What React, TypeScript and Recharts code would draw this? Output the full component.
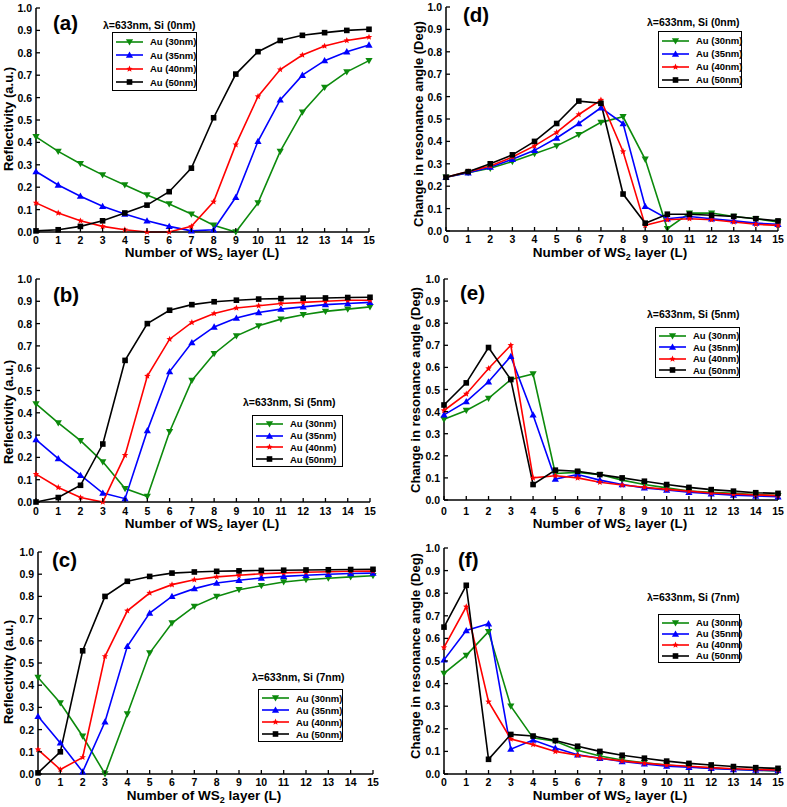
import { Line, LineChart, XAxis, YAxis } from 'recharts';

const layers = [0, 1, 2, 3, 4, 5, 6, 7, 8, 9, 10, 11, 12, 13, 14, 15];
const yTicks = [0, 0.1, 0.2, 0.3, 0.4, 0.5, 0.6, 0.7, 0.8, 0.9, 1.0];

// (a) reflectivity, Si 0nm
const a30 = [0.425, 0.36, 0.305, 0.255, 0.21, 0.165, 0.125, 0.08, 0.03, 0.0, 0.13, 0.36, 0.535, 0.645, 0.715, 0.765];
const a35 = [0.27, 0.21, 0.16, 0.115, 0.08, 0.05, 0.025, 0.005, 0.01, 0.155, 0.405, 0.59, 0.7, 0.765, 0.805, 0.835];
const a40 = [0.13, 0.085, 0.05, 0.025, 0.01, 0.0, 0.0, 0.025, 0.135, 0.39, 0.605, 0.725, 0.79, 0.83, 0.855, 0.87];
const a50 = [0.005, 0.01, 0.025, 0.05, 0.085, 0.12, 0.18, 0.285, 0.51, 0.705, 0.805, 0.855, 0.878, 0.89, 0.9, 0.905];

// (b) reflectivity, Si 5nm
const b30 = [0.44, 0.355, 0.275, 0.18, 0.06, 0.025, 0.315, 0.545, 0.665, 0.745, 0.79, 0.82, 0.84, 0.855, 0.865, 0.875];
const b35 = [0.28, 0.195, 0.12, 0.04, 0.015, 0.32, 0.585, 0.715, 0.785, 0.825, 0.85, 0.865, 0.875, 0.885, 0.89, 0.895];
const b40 = [0.125, 0.065, 0.02, 0.0, 0.21, 0.565, 0.73, 0.805, 0.845, 0.87, 0.88, 0.89, 0.895, 0.9, 0.905, 0.905];
const b50 = [0.0, 0.02, 0.075, 0.26, 0.635, 0.8, 0.86, 0.885, 0.898, 0.905, 0.91, 0.912, 0.914, 0.915, 0.917, 0.918];

// (c) reflectivity, Si 7nm
const c30 = [0.435, 0.32, 0.17, 0.0, 0.27, 0.545, 0.68, 0.755, 0.8, 0.83, 0.848, 0.865, 0.875, 0.882, 0.888, 0.893];
const c35 = [0.26, 0.14, 0.01, 0.235, 0.575, 0.725, 0.8, 0.835, 0.86, 0.873, 0.883, 0.89, 0.895, 0.9, 0.903, 0.905];
const c40 = [0.11, 0.02, 0.075, 0.53, 0.735, 0.815, 0.853, 0.875, 0.888, 0.895, 0.902, 0.906, 0.909, 0.911, 0.913, 0.914];
const c50 = [0.005, 0.1, 0.555, 0.8, 0.868, 0.89, 0.905, 0.91, 0.913, 0.915, 0.917, 0.918, 0.919, 0.92, 0.921, 0.922];

// (d) resonance angle change, Si 0nm
const d30 = [0.24, 0.26, 0.28, 0.31, 0.345, 0.38, 0.43, 0.485, 0.51, 0.32, 0.01, 0.08, 0.08, 0.065, 0.055, 0.04];
const d35 = [0.24, 0.26, 0.285, 0.32, 0.36, 0.415, 0.48, 0.55, 0.48, 0.11, 0.055, 0.065, 0.055, 0.045, 0.035, 0.03];
const d40 = [0.24, 0.265, 0.29, 0.33, 0.38, 0.44, 0.52, 0.585, 0.355, 0.025, 0.05, 0.055, 0.05, 0.04, 0.03, 0.025];
const d50 = [0.24, 0.265, 0.3, 0.34, 0.4, 0.48, 0.58, 0.57, 0.165, 0.035, 0.075, 0.075, 0.07, 0.065, 0.055, 0.045];

// (e) resonance angle change, Si 5nm
const e30 = [0.365, 0.405, 0.46, 0.545, 0.57, 0.12, 0.125, 0.115, 0.09, 0.07, 0.055, 0.04, 0.035, 0.03, 0.025, 0.02];
const e35 = [0.385, 0.445, 0.535, 0.65, 0.385, 0.095, 0.115, 0.09, 0.07, 0.055, 0.045, 0.035, 0.028, 0.022, 0.018, 0.015];
const e40 = [0.405, 0.48, 0.595, 0.7, 0.1, 0.11, 0.1, 0.08, 0.068, 0.058, 0.048, 0.04, 0.032, 0.027, 0.023, 0.02];
const e50 = [0.43, 0.53, 0.69, 0.545, 0.07, 0.135, 0.13, 0.115, 0.1, 0.085, 0.07, 0.057, 0.047, 0.04, 0.033, 0.03];

// (f) resonance angle change, Si 7nm
const f30 = [0.445, 0.525, 0.63, 0.3, 0.16, 0.145, 0.105, 0.08, 0.062, 0.05, 0.04, 0.032, 0.026, 0.021, 0.017, 0.014];
const f35 = [0.505, 0.635, 0.665, 0.11, 0.15, 0.115, 0.085, 0.07, 0.055, 0.045, 0.035, 0.03, 0.025, 0.02, 0.017, 0.015];
const f40 = [0.56, 0.74, 0.32, 0.155, 0.13, 0.1, 0.083, 0.07, 0.058, 0.048, 0.04, 0.034, 0.028, 0.023, 0.02, 0.018];
const f50 = [0.65, 0.835, 0.065, 0.175, 0.168, 0.148, 0.123, 0.1, 0.083, 0.07, 0.057, 0.047, 0.04, 0.033, 0.028, 0.025];

const series = [
  { key: 'au30', name: 'Au (30nm)', color: '#0c8a0c', shape: 'down' },
  { key: 'au35', name: 'Au (35nm)', color: '#0000ff', shape: 'up' },
  { key: 'au40', name: 'Au (40nm)', color: '#ff0000', shape: 'star' },
  { key: 'au50', name: 'Au (50nm)', color: '#000000', shape: 'square' },
];

const font = '"Liberation Sans", Arial, sans-serif';

function table(s30: number[], s35: number[], s40: number[], s50: number[]) {
  return layers.map((L, i) => ({ L, au30: s30[i], au35: s35[i], au40: s40[i], au50: s50[i] }));
}

function Marker({ cx, cy, shape, color }: { cx: number; cy: number; shape: string; color: string }) {
  const s = 3.6;
  if (shape === 'down')
    return <polygon points={`${cx - s},${cy - s * 0.75} ${cx + s},${cy - s * 0.75} ${cx},${cy + s}`} fill={color} />;
  if (shape === 'up')
    return <polygon points={`${cx - s},${cy + s * 0.75} ${cx + s},${cy + s * 0.75} ${cx},${cy - s}`} fill={color} />;
  if (shape === 'square') return <rect x={cx - 2.8} y={cy - 2.8} width={5.6} height={5.6} fill={color} />;
  const pts: string[] = [];
  for (let k = 0; k < 10; k++) {
    const r = k % 2 === 0 ? 3.4 : 1.5;
    const ang = -Math.PI / 2 + (k * Math.PI) / 5;
    pts.push(`${cx + r * Math.cos(ang)},${cy + r * Math.sin(ang)}`);
  }
  return <polygon points={pts.join(' ')} fill={color} />;
}

interface PanelProps {
  chart: { x: number; y: number; w: number; h: number };
  plot: { l: number; t: number; r: number; b: number };
  data: ReturnType<typeof table>;
  tickY: number;
}

function Panel({ chart, plot, data, tickY }: PanelProps) {
  const pl = plot.l - chart.x;
  const pb = plot.b - chart.y;
  const ty = tickY - chart.y;
  const XTick = (props: any) => (
    <g>
      <line x1={props.x} x2={props.x} y1={pb} y2={pb - 4} stroke="#000" strokeWidth={1.3} />
      <text x={props.x} y={ty} textAnchor="middle" dominantBaseline="central" fontSize={10.5} fontWeight="bold" fontFamily={font} fill="#000">
        {props.payload.value}
      </text>
    </g>
  );
  const YTick = (props: any) => (
    <g>
      <line x1={pl} x2={pl + 4} y1={props.y} y2={props.y} stroke="#000" strokeWidth={1.3} />
      <text x={pl - 4} y={props.y} textAnchor="end" dominantBaseline="central" fontSize={10.5} fontWeight="bold" fontFamily={font} fill="#000">
        {Number(props.payload.value).toFixed(1)}
      </text>
    </g>
  );
  return (
    <div style={{ position: 'absolute', left: chart.x, top: chart.y }}>
      <LineChart
        width={chart.w}
        height={chart.h}
        data={data}
        margin={{ top: plot.t - chart.y, right: chart.x + chart.w - plot.r, left: 0, bottom: 0 }}
      >
        <XAxis
          dataKey="L"
          type="number"
          domain={[0, 15]}
          ticks={layers}
          interval={0}
          height={chart.y + chart.h - plot.b}
          axisLine={{ stroke: '#000', strokeWidth: 1.5 }}
          tickLine={false}
          tick={XTick}
        />
        <YAxis
          type="number"
          domain={[0, 1]}
          ticks={yTicks}
          interval={0}
          width={pl}
          axisLine={{ stroke: '#000', strokeWidth: 1.5 }}
          tickLine={false}
          tick={YTick}
        />
        {series.map((s) => (
          <Line
            key={s.key}
            dataKey={s.key}
            type="linear"
            stroke={s.color}
            strokeWidth={1.6}
            isAnimationActive={false}
            activeDot={false}
            dot={(p: any) => <Marker key={`${s.key}-${p.index}`} cx={p.cx} cy={p.cy} shape={s.shape} color={s.color} />}
          />
        ))}
      </LineChart>
    </div>
  );
}

function Legend({ left, top, w, h }: { left: number; top: number; w: number; h: number }) {
  const rowH = (h - 5) / 4;
  return (
    <div
      style={{
        position: 'absolute',
        left,
        top,
        width: w,
        height: h,
        boxSizing: 'border-box',
        border: '1.2px solid #000',
        paddingTop: 2,
        background: '#fff',
        fontFamily: font,
        fontWeight: 'bold',
        fontSize: 9.5,
      }}
    >
      {series.map((s) => (
        <div key={s.key} style={{ height: rowH, display: 'flex', alignItems: 'center' }}>
          <svg width={34} height={10} style={{ marginLeft: 2, flex: 'none' }}>
            <line x1={1} x2={28} y1={5} y2={5} stroke={s.color} strokeWidth={1.6} />
            <Marker cx={14.5} cy={5} shape={s.shape} color={s.color} />
          </svg>
          <span style={{ whiteSpace: 'nowrap', marginLeft: 1 }}>{s.name}</span>
        </div>
      ))}
    </div>
  );
}

function Text({ x, y, size, children }: { x: number; y: number; size: number; children: any }) {
  return (
    <div
      style={{
        position: 'absolute',
        left: x,
        top: y,
        transform: 'translateY(-50%)',
        whiteSpace: 'nowrap',
        fontFamily: font,
        fontWeight: 'bold',
        fontSize: size,
        lineHeight: 1,
      }}
    >
      {children}
    </div>
  );
}

function XTitle({ cx, cy }: { cx: number; cy: number }) {
  return (
    <div
      style={{
        position: 'absolute',
        left: cx,
        top: cy,
        transform: 'translate(-50%, -50%)',
        whiteSpace: 'nowrap',
        fontFamily: font,
        fontWeight: 'bold',
        fontSize: 13.5,
        lineHeight: 1,
      }}
    >
      Number of WS<sub style={{ fontSize: 9, verticalAlign: -3 }}>2</sub> layer (L)
    </div>
  );
}

function YTitle({ x, cy, label }: { x: number; cy: number; label: string }) {
  return (
    <div
      style={{
        position: 'absolute',
        left: x,
        top: cy,
        transform: 'translate(-50%, -50%) rotate(-90deg)',
        whiteSpace: 'nowrap',
        fontFamily: font,
        fontWeight: 'bold',
        fontSize: 13,
        lineHeight: 1,
      }}
    >
      {label}
    </div>
  );
}

const refl = 'Reflectivity (a.u.)';
const ang = 'Change in resonance angle (Deg)';

export default function App() {
  return (
    <div style={{ position: 'absolute', left: 0, top: 0, width: 787, height: 807, background: '#fff', overflow: 'hidden' }}>
      {/* (a) */}
      <Panel chart={{ x: 0, y: 0, w: 393, h: 265 }} plot={{ l: 36, t: 8, r: 369, b: 232 }} data={table(a30, a35, a40, a50)} tickY={240} />
      <YTitle x={8} cy={119} label={refl} />
      <XTitle cx={202} cy={254} />
      <Text x={53} y={23} size={20.5}>(a)</Text>
      <Text x={103} y={25} size={10.5}>λ=633nm, Si (0nm)</Text>
      <Legend left={112} top={32} w={85} h={59} />

      {/* (d) */}
      <Panel chart={{ x: 395, y: 0, w: 392, h: 265 }} plot={{ l: 446, t: 7, r: 778, b: 231 }} data={table(d30, d35, d40, d50)} tickY={239} />
      <YTitle x={418} cy={124} label={ang} />
      <XTitle cx={610} cy={254} />
      <Text x={463} y={15} size={20.5}>(d)</Text>
      <Text x={647} y={22} size={10.5}>λ=633nm, Si (0nm)</Text>
      <Legend left={658} top={31} w={84} h={57} />

      {/* (b) */}
      <Panel chart={{ x: 0, y: 265, w: 393, h: 270 }} plot={{ l: 36, t: 279, r: 370, b: 502 }} data={table(b30, b35, b40, b50)} tickY={511} />
      <YTitle x={8} cy={412} label={refl} />
      <XTitle cx={202} cy={525} />
      <Text x={53} y={295} size={20.5}>(b)</Text>
      <Text x={243} y={402} size={10.5}>λ=633nm, Si (5nm)</Text>
      <Legend left={252} top={415} w={91} h={52} />

      {/* (e) */}
      <Panel chart={{ x: 395, y: 265, w: 392, h: 270 }} plot={{ l: 444, t: 279, r: 778, b: 500 }} data={table(e30, e35, e40, e50)} tickY={511} />
      <YTitle x={415} cy={390} label={ang} />
      <XTitle cx={610} cy={525} />
      <Text x={460} y={293} size={20.5}>(e)</Text>
      <Text x={647} y={314} size={10.5}>λ=633nm, Si (5nm)</Text>
      <Legend left={655} top={327} w={85} h={51} />

      {/* (c) */}
      <Panel chart={{ x: 0, y: 535, w: 393, h: 272 }} plot={{ l: 38, t: 552, r: 373, b: 774 }} data={table(c30, c35, c40, c50)} tickY={782} />
      <YTitle x={8} cy={672} label={refl} />
      <XTitle cx={204} cy={797} />
      <Text x={52} y={560} size={20.5}>(c)</Text>
      <Text x={252} y={677} size={10.5}>λ=633nm, Si (7nm)</Text>
      <Legend left={258} top={689} w={85} h={53} />

      {/* (f) */}
      <Panel chart={{ x: 395, y: 535, w: 392, h: 272 }} plot={{ l: 444, t: 548, r: 778, b: 774 }} data={table(f30, f35, f40, f50)} tickY={782} />
      <YTitle x={415} cy={656} label={ang} />
      <XTitle cx={610} cy={797} />
      <Text x={458} y={560} size={20.5}>(f)</Text>
      <Text x={647} y={597} size={10.5}>λ=633nm, Si (7nm)</Text>
      <Legend left={658} top={614} w={82} h={49} />
    </div>
  );
}
